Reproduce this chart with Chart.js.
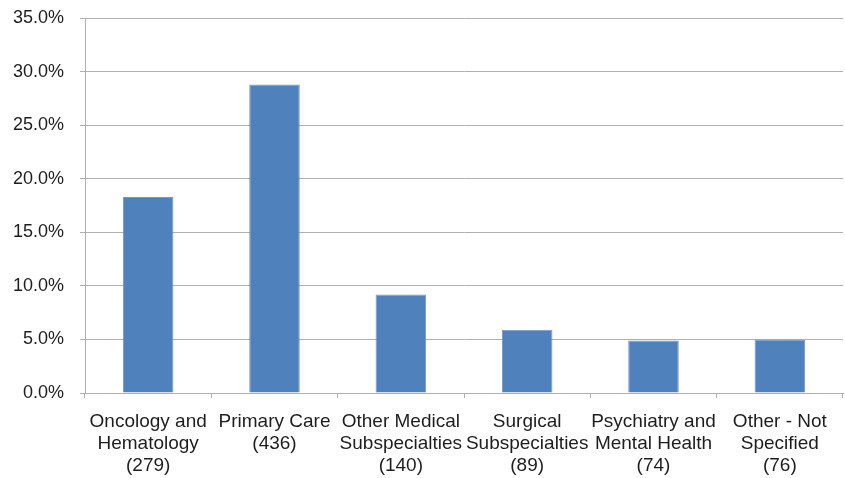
<!DOCTYPE html>
<html>
<head>
<meta charset="utf-8">
<script src="https://cdn.jsdelivr.net/npm/chart.js@4/dist/chart.umd.min.js"></script>
<style>
  html, body { margin: 0; padding: 0; background: #fff; }
  #wrap { width: 845px; height: 478px; position: relative; }
</style>
</head>
<body>
<div id="wrap"><canvas id="c"></canvas></div>
<script>
// Specialty groups (respondent counts shown in the labels)
const categories = [
  ['Oncology and', 'Hematology', '(279)'],
  ['Primary Care', '(436)'],
  ['Other Medical', 'Subspecialties', '(140)'],
  ['Surgical', 'Subspecialties', '(89)'],
  ['Psychiatry and', 'Mental Health', '(74)'],
  ['Other - Not', 'Specified', '(76)']
];
// Share of respondents, percent
const shares = [18.3, 28.8, 9.2, 5.9, 4.9, 5.0];
// Value axis
const yMin = 0, yMax = 35, yStep = 5;

const gridGray = '#b0b0b0';
const textColor = '#1e1e1e';
const family = '"Liberation Sans", Arial, Helvetica, sans-serif';

new Chart(document.getElementById('c'), {
  type: 'bar',
  data: {
    labels: categories,
    datasets: [{
      data: shares,
      backgroundColor: '#4f81bd',
      borderColor: '#7399c9',
      borderWidth: 1,
      barPercentage: 0.4,
      categoryPercentage: 1.0
    }]
  },
  options: {
    responsive: true,
    maintainAspectRatio: false,
    animation: false,
    layout: { padding: { left: 13, right: 2, top: 18, bottom: 0 } },
    plugins: { legend: { display: false }, tooltip: { enabled: false } },
    scales: {
      x: {
        afterFit: s => { s.paddingLeft = 0; s.paddingRight = 0; s.height = 85; },
        grid: {
          offset: true,
          drawOnChartArea: false,
          drawTicks: true,
          tickLength: 5,
          color: gridGray
        },
        border: { display: true, color: gridGray, width: 1 },
        ticks: {
          color: textColor,
          font: { family: family, size: 19, lineHeight: 1.15 },
          padding: 13,
          maxRotation: 0,
          autoSkip: false
        }
      },
      y: {
        min: yMin,
        max: yMax,
        afterFit: s => { s.width = 72; s.paddingTop = 0; s.paddingBottom = 0; },
        grid: { color: gridGray, lineWidth: 1, tickLength: 5 },
        border: { display: true, color: gridGray, width: 1 },
        ticks: {
          stepSize: yStep,
          color: textColor,
          font: { family: family, size: 18 },
          padding: 16,
          callback: v => v.toFixed(1) + '%'
        }
      }
    }
  }
});
</script>
</body>
</html>
